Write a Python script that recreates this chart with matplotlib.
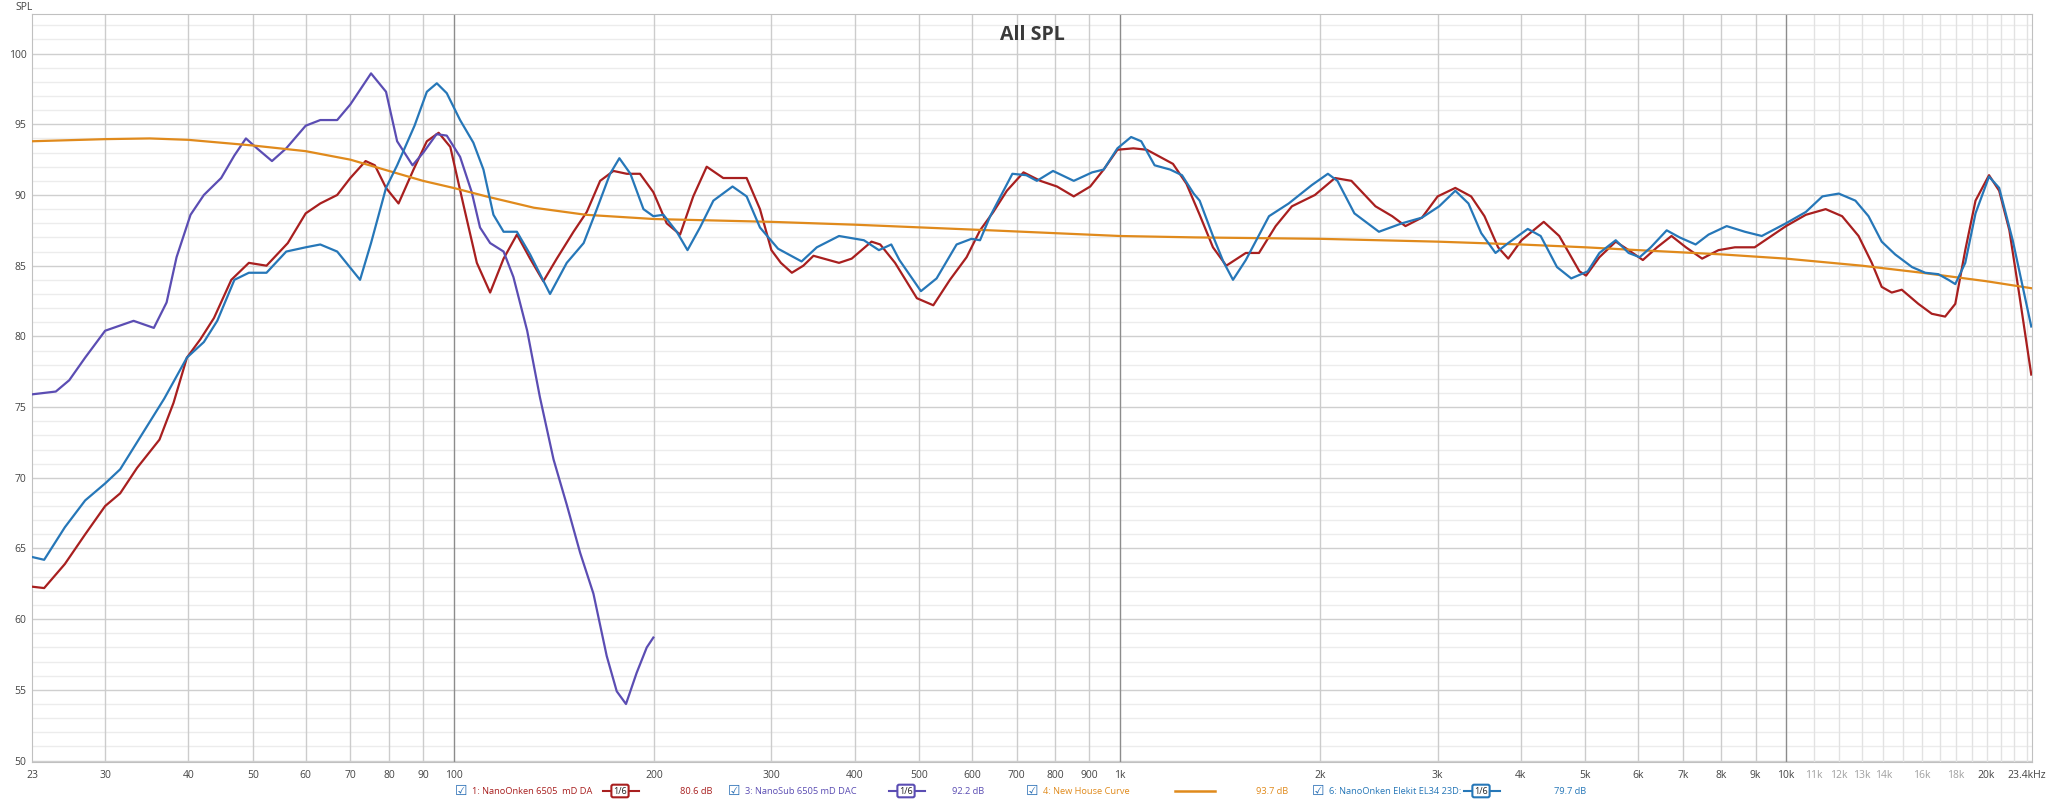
import matplotlib
matplotlib.use('Agg')
import matplotlib.pyplot as plt
import matplotlib.transforms as mtransforms
from matplotlib.lines import Line2D

plt.rcParams['font.family'] = ['Open Sans', 'DejaVu Sans']

# NanoOnken 6505 mD DA (red)
red_f = [23.3, 24.3, 26.1, 28.0, 30, 31.6, 33.5, 36.2, 38.0, 39.8, 41.7, 43.7, 46.4, 49.3, 52.4, 56.4,
         60, 63.1, 66.9, 70, 73.8, 76.2, 79.2, 82.7, 87.1, 91.2, 95, 98.9, 103.5, 108.4, 113.5, 118.9,
         124.5, 130.3, 136.4, 142.9, 151.4, 158.5, 166, 173.8, 182, 190.5, 199.5, 208.9, 218.8, 229,
         239.9, 254, 275.4, 288.4, 300, 310, 322, 335, 347, 379, 396, 424, 437, 460, 496, 525, 556,
         589, 617, 646, 677, 717, 760, 805, 853, 903, 946, 992, 1048, 1098, 1202, 1259, 1318, 1380,
         1445, 1546, 1618, 1714, 1813, 1963, 2104, 2227, 2420, 2564, 2684, 2842, 3000, 3189, 3368,
         3527, 3697, 3829, 4008, 4329, 4567, 4898, 5011, 5247, 5552, 5805, 6097, 6405, 6732, 7076,
         7484, 7919, 8380, 8973, 10000, 10710, 11470, 12140, 12850, 13450, 13920, 14410, 14920,
         15800, 16550, 17330, 17950, 18580, 19250, 20170, 20890, 21640, 22420, 23340]
red_db = [62.3, 62.2, 63.9, 66.0, 68.0, 68.9, 70.7, 72.7, 75.3, 78.5, 79.8, 81.3, 84.0, 85.2, 85.0, 86.6,
          88.7, 89.4, 90.0, 91.2, 92.4, 92.1, 90.5, 89.4, 91.8, 93.8, 94.4, 93.4, 89.3, 85.2, 83.1, 85.5,
          87.2, 85.5, 83.9, 85.5, 87.4, 88.8, 91.0, 91.7, 91.5, 91.5, 90.2, 88.0, 87.2, 89.9,
          92.0, 91.2, 91.2, 89.0, 86.1, 85.2, 84.5, 85.0, 85.7, 85.2, 85.5, 86.7, 86.5, 85.2, 82.7, 82.2, 84.0,
          85.6, 87.5, 88.8, 90.3, 91.6, 91.0, 90.6, 89.9, 90.6, 91.8, 93.2, 93.3, 93.2, 92.2, 90.8, 88.6, 86.3,
          85.0, 85.9, 85.9, 87.8, 89.2, 90.0, 91.2, 91.0, 89.2, 88.5, 87.8, 88.4, 89.9, 90.5, 89.9,
          88.5, 86.3, 85.5, 86.8, 88.1, 87.1, 84.6, 84.3, 85.6, 86.7, 86.1, 85.4, 86.3, 87.1, 86.3,
          85.5, 86.1, 86.3, 86.3, 87.8, 88.6, 89.0, 88.5, 87.1, 85.2, 83.5, 83.1, 83.3,
          82.3, 81.6, 81.4, 82.3, 86.1, 89.6, 91.4, 90.3, 87.5, 82.8, 77.3]

# NanoSub 6505 mD DAC (purple)
sub_f = [23.3, 25.3, 26.5, 28.0, 30, 33.1, 35.5, 37.1, 38.4, 40.3, 42.2, 44.8, 46.9, 48.8, 50.7, 53.4,
         56.1, 60, 63.1, 66.9, 70, 75.2, 79.2, 82.3, 86.8, 90.1, 94.3, 97.7, 102.3, 106.5, 109.6, 113.5,
         118.9, 123, 129, 134.8, 141.3, 147.9, 154.9, 162.2, 169.8, 175.8, 181.5, 188.3, 195, 199.5]
sub_db = [75.9, 76.1, 76.9, 78.5, 80.4, 81.1, 80.6, 82.4, 85.6, 88.6, 90.0, 91.2, 92.8, 94.0, 93.3, 92.4,
          93.3, 94.9, 95.3, 95.3, 96.4, 98.6, 97.3, 93.8, 92.1, 93.0, 94.3, 94.2, 92.7, 90.2, 87.7, 86.6,
          86.0, 84.2, 80.4, 75.7, 71.3, 68.1, 64.7, 61.8, 57.4, 54.9, 54.0, 56.2, 58.0, 58.7]

# New House Curve (orange)
house_f = [23.3, 30, 35, 40, 50, 60, 70, 80, 90, 100, 112, 132, 158, 200, 300, 400, 640, 1000, 1300,
           2000, 3000, 4000, 5000, 6000, 8000, 10000, 13000, 16000, 20000, 23400]
house_db = [93.8, 93.95, 94.0, 93.9, 93.5, 93.1, 92.5, 91.7, 91.0, 90.5, 89.9, 89.1, 88.6, 88.3, 88.1,
            87.9, 87.5, 87.1, 87.0, 86.9, 86.7, 86.5, 86.3, 86.1, 85.8, 85.5, 85.0, 84.5, 83.9, 83.4]

# NanoOnken Elekit EL34 23D (blue)
el_f = [23.3, 24.3, 26.1, 28.0, 30, 31.6, 34.0, 36.8, 39.8, 42.2, 44.2, 46.9, 49.3, 52.4, 56.1, 60,
        63.1, 66.9, 72.4, 75.2, 79.2, 82.3, 87.4, 91.2, 94.4, 97.7, 102.3, 107.1, 110.9, 114.8, 118.9,
        124.5, 130.3, 139.6, 147.9, 156.8, 164.1, 171.8, 177.4, 184.3, 192.8, 199.5, 206.6, 216.3,
        224.5, 234.4, 245.5, 262.3, 275.4, 288.4, 307, 333, 351, 379, 413, 435, 454, 467, 503, 531,
        569, 599, 617, 639, 690, 724, 751, 794, 853, 909, 946, 992, 1040, 1077, 1128, 1190, 1240,
        1291, 1318, 1380, 1430, 1479, 1546, 1675, 1793, 1942, 2053, 2122, 2250, 2449, 2653, 2842,
        3016, 3189, 3337, 3488, 3664, 3829, 4096, 4283, 4532, 4760, 5040, 5247, 5552, 5805, 6031,
        6267, 6621, 6924, 7317, 7652, 8146, 8674, 9197, 10000, 10710, 11340, 12000, 12710, 13300,
        13920, 14580, 15460, 16180, 16930, 17530, 17950, 18580, 19250, 20170, 20890, 21890, 23340]
el_db = [64.4, 64.2, 66.5, 68.4, 69.6, 70.6, 73.0, 75.6, 78.5, 79.6, 81.1, 84.0, 84.5, 84.5, 86.0, 86.3,
         86.5, 86.0, 84.0, 86.6, 90.5, 92.1, 94.9, 97.3, 97.9, 97.2, 95.3, 93.7, 91.8, 88.6, 87.4,
         87.4, 85.8, 83.0, 85.2, 86.6, 89.0, 91.5, 92.6, 91.5, 89.0, 88.5, 88.6, 87.4,
         86.1, 87.7, 89.6, 90.6, 89.9, 87.7, 86.2, 85.3, 86.3, 87.1, 86.8, 86.1, 86.5, 85.4, 83.2, 84.1,
         86.5, 86.9, 86.8, 88.5, 91.5, 91.4, 91.0, 91.7, 91.0, 91.6, 91.8, 93.3, 94.1, 93.8, 92.1, 91.8, 91.4,
         90.1, 89.6, 87.1, 85.3, 84.0, 85.4, 88.5, 89.4, 90.7, 91.5, 91.0, 88.7, 87.4, 88.0, 88.4,
         89.2, 90.3, 89.4, 87.3, 85.9, 86.6, 87.6, 87.1, 84.9, 84.1, 84.6, 85.9, 86.8, 85.9, 85.6,
         86.3, 87.5, 87.0, 86.5, 87.2, 87.8, 87.4, 87.1, 88.0, 88.8, 89.9, 90.1, 89.6, 88.5,
         86.7, 85.8, 84.9, 84.5, 84.4, 84.0, 83.7, 85.2, 88.7, 91.3, 90.5, 86.8, 80.7]

tick_f = [23.3, 30, 40, 50, 60, 70, 80, 90, 100, 200, 300, 400, 500, 600, 700, 800, 900, 1000,
          2000, 3000, 4000, 5000, 6000, 7000, 8000, 9000, 10000, 11000, 12000, 13000, 14000,
          16000, 18000, 20000, 23400]
tick_lbl = ['23', '30', '40', '50', '60', '70', '80', '90', '100', '200', '300', '400', '500', '600',
            '700', '800', '900', '1k', '2k', '3k', '4k', '5k', '6k', '7k', '8k', '9k', '10k', '11k',
            '12k', '13k', '14k', '16k', '18k', '20k', '23.4kHz']
faint_lbl = ['11k', '12k', '13k', '14k', '16k', '18k']

RED = '#a81f1f'
PURPLE = '#5b4db3'
ORANGE = '#e08a1c'
BLUE = '#2677b8'

fig = plt.figure(figsize=(20.48, 8.05), dpi=100)
ax = fig.add_axes([32/2048, 1 - 762/805, 2000/2048, 748/805])
ax.set_xscale('log')
ax.set_xlim(23.3, 23400)
ax.set_ylim(49.9, 102.8)

# grid
for d in range(50, 103):
    ax.axhline(d, color='#cfcfcf' if d % 5 == 0 else '#ececec', lw=1.0, zorder=0)
grid_f = list(range(30, 100, 10)) + list(range(200, 1000, 100)) + list(range(2000, 10000, 1000))
for g in grid_f:
    ax.axvline(g, color='#cccccc', lw=1.0, zorder=0)
for g in range(11000, 24000, 1000):
    ax.axvline(g, color='#e2e2e2', lw=1.0, zorder=0)
for g in [100, 1000, 10000]:
    ax.axvline(g, color='#8c8c8c', lw=1.0, zorder=0)

ax.plot(red_f, red_db, color=RED, lw=1.6, zorder=3)
ax.plot(sub_f, sub_db, color=PURPLE, lw=1.6, zorder=3)
ax.plot(house_f, house_db, color=ORANGE, lw=1.6, zorder=3)
ax.plot(el_f, el_db, color=BLUE, lw=1.6, zorder=4)

ax.set_xticks(tick_f)
ax.set_xticklabels(tick_lbl)
ax.xaxis.set_minor_locator(matplotlib.ticker.NullLocator())
ax.set_yticks(range(50, 101, 5))
ax.tick_params(axis='both', length=0, labelsize=7.5, colors='#444444')
ax.tick_params(axis='x', pad=6)
ax.tick_params(axis='y', pad=4)
for lab in ax.get_xticklabels():
    if lab.get_text() in faint_lbl:
        lab.set_color('#a0a0a0')
last = ax.get_xticklabels()[-1]
last.set_horizontalalignment('right')
last.set_transform(last.get_transform() + mtransforms.ScaledTranslation(0.14, 0, fig.dpi_scale_trans))
for s in ax.spines.values():
    s.set_color('#c0c0c0')

ax.text(0.5, 0.985, 'All SPL', transform=ax.transAxes, ha='center', va='top',
        fontsize=14, fontweight='bold', color='#3a3a3a')
fig.text(15/2048, 1 - 8/805, 'SPL', fontsize=7.5, color='#444444', va='center')

# legend row
ly = 1 - 791/805
def px(x):
    return x / 2048

entries = [
    (461, '1: NanoOnken 6505  mD DA', RED, 620, 'box', 680, '80.6 dB'),
    (734, '3: NanoSub 6505 mD DAC', PURPLE, 906, 'box', 952, '92.2 dB'),
    (1032, '4: New House Curve', ORANGE, 1195, 'line', 1256, '93.7 dB'),
    (1318, '6: NanoOnken Elekit EL34 23D:', BLUE, 1481, 'box', 1554, '79.7 dB'),
]
for cx, name, col, mx, kind, vx, val in entries:
    fig.text(px(cx), ly, '\u2611', color='#2a6fb5', fontsize=10, ha='center', va='center',
             family=['DejaVu Sans'])
    fig.text(px(cx + 11), ly, name, color=col, fontsize=6.7, va='center')
    if kind == 'box':
        fig.add_artist(Line2D([px(mx - 17), px(mx + 19)], [ly, ly], color=col, lw=1.5))
        fig.text(px(mx), ly, '1/6', color='#222222', fontsize=6.5, ha='center', va='center',
                 bbox=dict(boxstyle='round,pad=0.2', fc='white', ec=col, lw=1.5), zorder=5)
    else:
        fig.add_artist(Line2D([px(mx - 20), px(mx + 20)], [ly, ly], color=col, lw=1.8))
    fig.text(px(vx), ly, val, color=col, fontsize=6.7, va='center')

fig.savefig('out.png', dpi=100)
